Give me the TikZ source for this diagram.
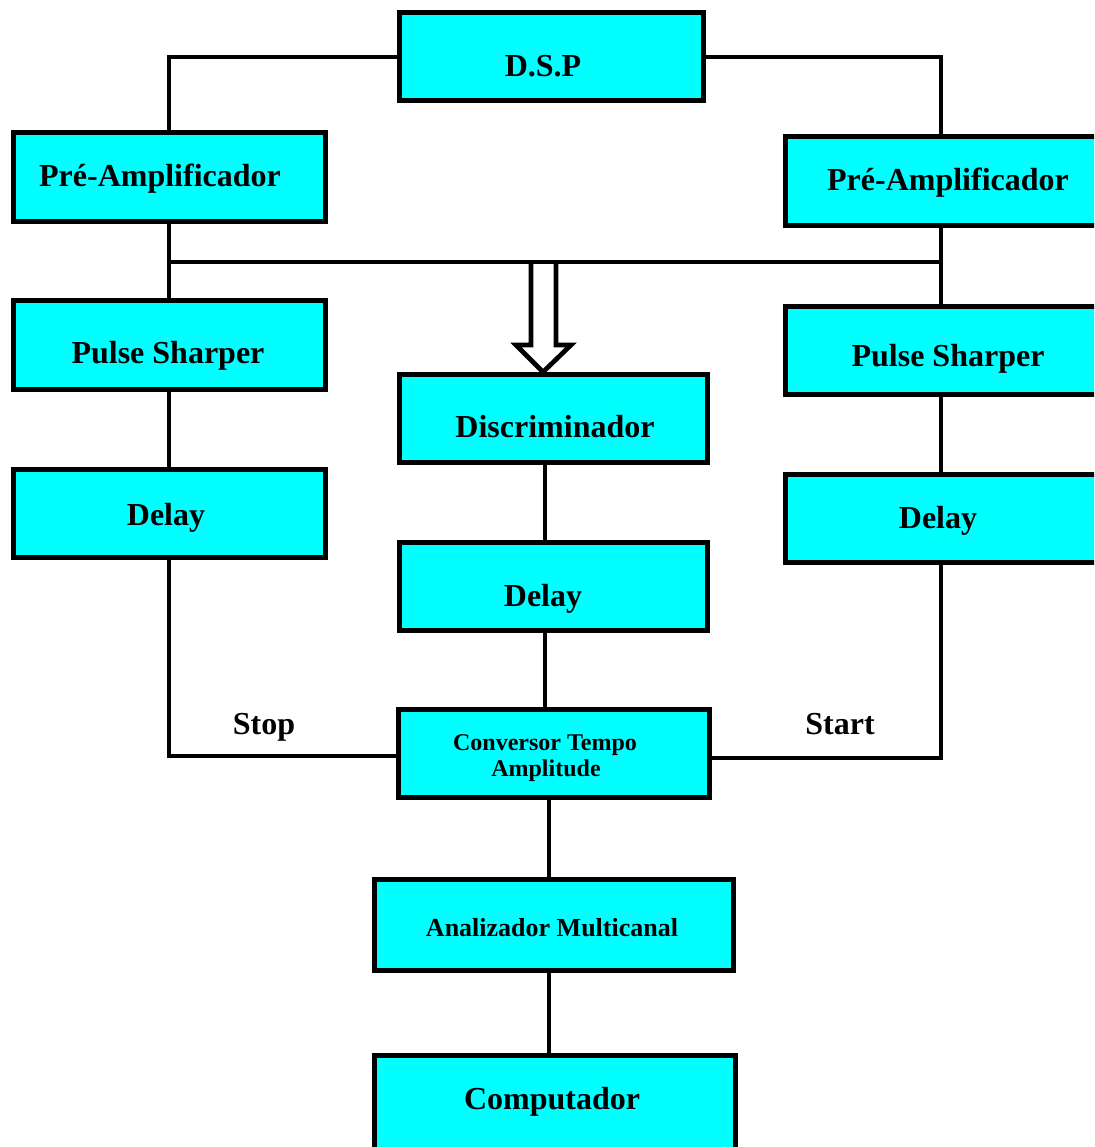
\documentclass[tikz,border=0pt]{standalone}
\usepackage{fontspec}
\setmainfont{Liberation Serif}
\definecolor{boxcyan}{HTML}{00FFFF}
\begin{document}
\begin{tikzpicture}[x=1pt,y=-1pt,
  box/.style={draw=black, fill=boxcyan, line width=5pt, rectangle, inner sep=0pt, outer sep=0pt},
  big/.style={font=\fontsize{32}{38}\selectfont\bfseries, anchor=base, inner sep=0pt},
  mid/.style={font=\fontsize{26}{30}\selectfont\bfseries, anchor=base, inner sep=0pt},
  small/.style={font=\fontsize{24}{28}\selectfont\bfseries, anchor=base, inner sep=0pt},
  wire/.style={line width=4.7pt, black}]
\useasboundingbox (0,0) rectangle (1094,1147);
\clip (0,0) rectangle (1094,1147);
\fill[white] (0,0) rectangle (1094,1147);

% boxes
\node[box, minimum width=304pt, minimum height=88pt] (dsp) at (551,57) {};
\node[box, minimum width=312pt, minimum height=89pt] (preL) at (169,177.5) {};
\node[box, minimum width=312pt, minimum height=89pt] (preR) at (941,181.5) {};
\node[box, minimum width=312pt, minimum height=89pt] (pulseL) at (169,344.5) {};
\node[box, minimum width=312pt, minimum height=88pt] (pulseR) at (941,350) {};
\node[box, minimum width=308pt, minimum height=88pt] (disc) at (553,418) {};
\node[box, minimum width=312pt, minimum height=88pt] (delayL) at (169,513) {};
\node[box, minimum width=312pt, minimum height=88pt] (delayR) at (941,518) {};
\node[box, minimum width=308pt, minimum height=88pt] (delayC) at (553,586) {};
\node[box, minimum width=311pt, minimum height=88pt] (cta) at (553.5,753) {};
\node[box, minimum width=359pt, minimum height=91pt] (ana) at (553.5,924.5) {};
\node[box, minimum width=361pt, minimum height=100pt] (comp) at (554.5,1105) {};

% texts
\node[big] (tdsp) at (543,77) {D.S.P};
\node[big] (tpreL) at (160,187) {Pré-Amplificador};
\node[big] (tpreR) at (948,191) {Pré-Amplificador};
\node[big] (tpulseL) at (168,363) {Pulse Sharper};
\node[big] (tpulseR) at (948,366) {Pulse Sharper};
\node[big] (tdisc) at (555,437) {Discriminador};
\node[big] (tdelayL) at (166,525) {Delay};
\node[big] (tdelayR) at (938,528) {Delay};
\node[big] (tdelayC) at (543,606) {Delay};
\node[small] (tcta1) at (545,750) {Conversor Tempo};
\node[small] (tcta2) at (546,776) {Amplitude};
\node[mid] (tana) at (552,936) {Analizador Multicanal};
\node[big] (tcomp) at (552,1109) {Computador};
\node[big] (tstop) at (264,734) {Stop};
\node[big] (tstart) at (840,734) {Start};

% connectors
\coordinate (jL) at (169,262);
\coordinate (jR) at (941,262);
\draw[wire] (dsp.west) -| (preL.north);
\draw[wire] (dsp.east) -| (preR.north);
\draw[wire] (preL.south) -- (pulseL.north);
\draw[wire] (preR.south) -- (pulseR.north);
\draw[wire] (pulseL.south) -- (delayL.north);
\draw[wire] (pulseR.south) -- (delayR.north);
\draw[wire] (delayL.south) |- ([yshift=-3pt]cta.west);
\draw[wire] (delayR.south) |- ([yshift=-5pt]cta.east);
\draw[wire] ([xshift=-8pt]disc.south) -- ([xshift=-8pt]delayC.north);
\draw[wire] ([xshift=-8pt]delayC.south) -- ([xshift=-8pt]delayC.south |- cta.north);
\draw[wire] ([xshift=-4.5pt]cta.south) -- ([xshift=-4.5pt]cta.south |- ana.north);
\draw[wire] ([xshift=-4.5pt]ana.south) -- ([xshift=-4.5pt]cta.south |- comp.north);

% hollow arrow into the discriminator
\coordinate (atip) at (543,372);
\draw[wire, fill=white, line join=miter] (531,262) -- (531,345) -- (516,345) -- (atip) -- (571,345) -- (556,345) -- (556,262);
\draw[wire] (jL) -- (jR);
\end{tikzpicture}
\end{document}
